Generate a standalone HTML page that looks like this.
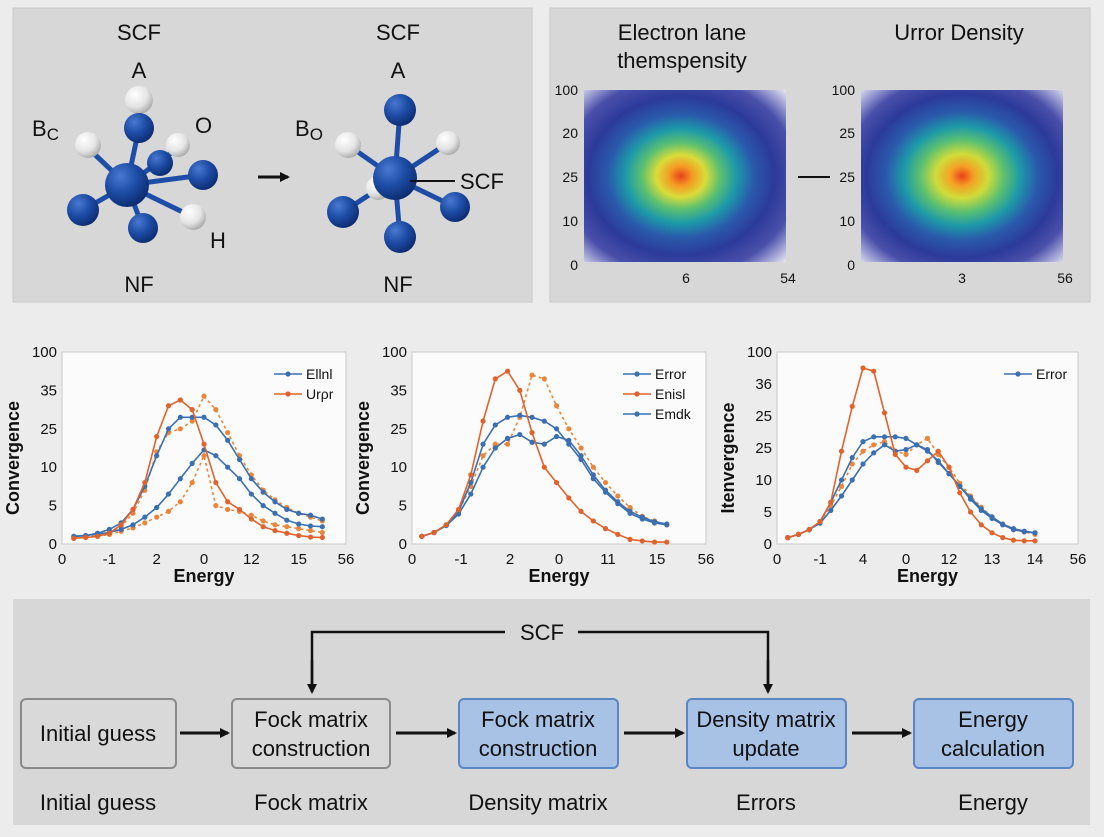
<!DOCTYPE html>
<html><head><meta charset="utf-8">
<style>
html,body{margin:0;padding:0;background:#ececec;}
body{width:1104px;height:832px;overflow:hidden;font-family:"Liberation Sans",sans-serif;}
svg text{font-family:"Liberation Sans",sans-serif;fill:#111;}
</style></head>
<body>
<svg id="root" width="1104" height="832" viewBox="0 0 1104 832" xmlns="http://www.w3.org/2000/svg">
<defs>
<radialGradient id="gBlue" cx="0.35" cy="0.3" r="0.75"><stop offset="0" stop-color="#4a78d0"/><stop offset="0.5" stop-color="#1d4da6"/><stop offset="1" stop-color="#0c2a6e"/></radialGradient>
<radialGradient id="gWhite" cx="0.35" cy="0.3" r="0.75"><stop offset="0" stop-color="#ffffff"/><stop offset="0.6" stop-color="#e4e4e4"/><stop offset="1" stop-color="#a8a8a8"/></radialGradient>
<radialGradient id="gHeat1" cx="0.48" cy="0.5" r="0.72"><stop offset="0" stop-color="#e8401c"/><stop offset="0.08" stop-color="#f59a22"/><stop offset="0.17" stop-color="#d9dc3a"/><stop offset="0.27" stop-color="#5cc070"/><stop offset="0.38" stop-color="#1d9aa8"/><stop offset="0.5" stop-color="#2a5aac"/><stop offset="0.64" stop-color="#2c3a9a"/><stop offset="0.8" stop-color="#4a50aa"/><stop offset="0.92" stop-color="#a8aad8"/><stop offset="1" stop-color="#e6e6f0"/></radialGradient>
<radialGradient id="gHeat2" cx="0.5" cy="0.5" r="0.72"><stop offset="0" stop-color="#e8401c"/><stop offset="0.08" stop-color="#f5a024"/><stop offset="0.18" stop-color="#cfdc3a"/><stop offset="0.29" stop-color="#5cc070"/><stop offset="0.4" stop-color="#1d9aa8"/><stop offset="0.52" stop-color="#2a5aac"/><stop offset="0.66" stop-color="#2c3a9a"/><stop offset="0.8" stop-color="#4a50aa"/><stop offset="0.92" stop-color="#a8aad8"/><stop offset="1" stop-color="#e6e6f0"/></radialGradient>
<marker id="arr" markerWidth="10" markerHeight="10" refX="8" refY="5" orient="auto" markerUnits="userSpaceOnUse"><path d="M0,0 L10,5 L0,10 z" fill="#111"/></marker>
</defs>

<g>
<rect x="13" y="8" width="519" height="294" fill="#d7d7d7" stroke="#c8c8c8"/>
<text x="139" y="40" font-size="22" text-anchor="middle">SCF</text>
<text x="139" y="78" font-size="22" text-anchor="middle">A</text>
<text x="32" y="136" font-size="22">B<tspan font-size="17" dy="4">C</tspan></text>
<text x="195" y="133" font-size="22">O</text>
<text x="210" y="248" font-size="22">H</text>
<text x="139" y="292" font-size="22" text-anchor="middle">NF</text>
<g stroke="#1d4da6" stroke-width="5">
<line x1="127" y1="185" x2="139" y2="128"/><line x1="127" y1="185" x2="88" y2="148"/><line x1="127" y1="185" x2="178" y2="148"/>
<line x1="127" y1="185" x2="203" y2="175"/><line x1="127" y1="185" x2="83" y2="210"/><line x1="127" y1="185" x2="143" y2="228"/><line x1="127" y1="185" x2="193" y2="217"/>
<circle cx="139" cy="100" r="14" fill="url(#gWhite)" stroke="none"/>
<circle cx="88" cy="145" r="13" fill="url(#gWhite)" stroke="none"/>
<circle cx="178" cy="145" r="12" fill="url(#gWhite)" stroke="none"/>
<circle cx="139" cy="128" r="15" fill="url(#gBlue)" stroke="none"/>
<circle cx="160" cy="163" r="13" fill="url(#gBlue)" stroke="none"/>
<circle cx="127" cy="185" r="22" fill="url(#gBlue)" stroke="none"/>
<circle cx="203" cy="175" r="15" fill="url(#gBlue)" stroke="none"/>
<circle cx="83" cy="210" r="16" fill="url(#gBlue)" stroke="none"/>
<circle cx="143" cy="228" r="15" fill="url(#gBlue)" stroke="none"/>
<circle cx="193" cy="217" r="13" fill="url(#gWhite)" stroke="none"/>
</g>
<line x1="258" y1="177" x2="288" y2="177" stroke="#111" stroke-width="3" marker-end="url(#arr)"/>
<text x="398" y="40" font-size="22" text-anchor="middle">SCF</text>
<text x="398" y="78" font-size="22" text-anchor="middle">A</text>
<text x="295" y="136" font-size="22">B<tspan font-size="17" dy="4">O</tspan></text>
<text x="398" y="292" font-size="22" text-anchor="middle">NF</text>
<g stroke="#1d4da6" stroke-width="5">
<line x1="395" y1="178" x2="400" y2="110"/><line x1="395" y1="178" x2="348" y2="145"/><line x1="395" y1="178" x2="448" y2="143"/>
<line x1="395" y1="178" x2="343" y2="212"/><line x1="395" y1="178" x2="455" y2="207"/><line x1="395" y1="178" x2="400" y2="237"/>
<circle cx="348" cy="145" r="13" fill="url(#gWhite)" stroke="none"/>
<circle cx="448" cy="143" r="12" fill="url(#gWhite)" stroke="none"/>
<circle cx="378" cy="188" r="12" fill="url(#gWhite)" stroke="none"/>
<circle cx="400" cy="110" r="16" fill="url(#gBlue)" stroke="none"/>
<circle cx="395" cy="178" r="22" fill="url(#gBlue)" stroke="none"/>
<circle cx="343" cy="212" r="16" fill="url(#gBlue)" stroke="none"/>
<circle cx="455" cy="207" r="15" fill="url(#gBlue)" stroke="none"/>
<circle cx="400" cy="237" r="16" fill="url(#gBlue)" stroke="none"/>
</g>
<line x1="410" y1="181" x2="455" y2="181" stroke="#111" stroke-width="2"/>
<text x="460" y="189" font-size="22">SCF</text>
</g>

<g>
<rect x="550" y="8" width="540" height="294" fill="#d7d7d7" stroke="#c8c8c8"/>
<text x="682" y="40" font-size="22" text-anchor="middle">Electron lane</text>
<text x="682" y="68" font-size="22" text-anchor="middle">themspensity</text>
<text x="959" y="40" font-size="22" text-anchor="middle">Urror Density</text>
<rect x="584" y="90" width="202" height="172" fill="#e6e6f0"/>
<rect x="584" y="90" width="202" height="172" fill="url(#gHeat1)"/>
<rect x="861" y="90" width="202" height="172" fill="#e6e6f0"/>
<rect x="861" y="90" width="202" height="172" fill="url(#gHeat2)"/>
<g font-size="14" text-anchor="end">
<text x="578" y="95">100</text><text x="578" y="138">20</text><text x="578" y="182">25</text><text x="578" y="226">10</text><text x="578" y="270">0</text></g>
<g font-size="14" text-anchor="end">
<text x="855" y="95">100</text><text x="855" y="138">25</text><text x="855" y="182">25</text><text x="855" y="226">10</text><text x="855" y="270">0</text></g>
<g font-size="14" text-anchor="middle">
<text x="686" y="283">6</text><text x="788" y="283">54</text><text x="962" y="283">3</text><text x="1065" y="283">56</text></g>
<line x1="798" y1="177" x2="830" y2="177" stroke="#111" stroke-width="2"/>
</g>

<g id="charts"></g>

<g>
<rect x="13" y="599" width="1077" height="226" fill="#d7d7d7"/>
<polyline points="312,690 312,632 505,632" fill="none" stroke="#111" stroke-width="2.5"/>
<polyline points="578,632 768,632 768,690" fill="none" stroke="#111" stroke-width="2.5"/>
<line x1="312" y1="660" x2="312" y2="692" stroke="#111" stroke-width="2.5" marker-end="url(#arr)"/>
<line x1="768" y1="660" x2="768" y2="692" stroke="#111" stroke-width="2.5" marker-end="url(#arr)"/>
<text x="542" y="640" font-size="22" text-anchor="middle">SCF</text>
<g font-size="22" text-anchor="middle">
<rect x="21" y="699" width="155" height="69" rx="5" fill="#d9d9d9" stroke="#8a8a8a" stroke-width="2"/>
<text x="98" y="741">Initial guess</text>
<rect x="232" y="699" width="158" height="69" rx="5" fill="#d9d9d9" stroke="#8a8a8a" stroke-width="2"/>
<text x="311" y="727">Fock matrix</text><text x="311" y="756">construction</text>
<rect x="459" y="699" width="159" height="69" rx="5" fill="#a8c2e6" stroke="#5b86c4" stroke-width="2"/>
<text x="538" y="727">Fock matrix</text><text x="538" y="756">construction</text>
<rect x="687" y="699" width="159" height="69" rx="5" fill="#a8c2e6" stroke="#5b86c4" stroke-width="2"/>
<text x="766" y="727">Density matrix</text><text x="766" y="756">update</text>
<rect x="914" y="699" width="159" height="69" rx="5" fill="#a8c2e6" stroke="#5b86c4" stroke-width="2"/>
<text x="993" y="727">Energy</text><text x="993" y="756">calculation</text>
<text x="98" y="810">Initial guess</text><text x="311" y="810">Fock matrix</text><text x="538" y="810">Density matrix</text><text x="766" y="810">Errors</text><text x="993" y="810">Energy</text>
</g>
<g stroke="#111" stroke-width="3">
<line x1="180" y1="733" x2="228" y2="733" marker-end="url(#arr)"/>
<line x1="396" y1="733" x2="455" y2="733" marker-end="url(#arr)"/>
<line x1="624" y1="733" x2="683" y2="733" marker-end="url(#arr)"/>
<line x1="852" y1="733" x2="910" y2="733" marker-end="url(#arr)"/>
</g>
</g>
</svg>
<script>
const c1XTicks = ["0","-1","2","0","12","15","56"];
const c1YTicks = ["0","5","10","25","35","100"];
const c1X = [0.25,0.5,0.75,1,1.25,1.5,1.75,2,2.25,2.5,2.75,3,3.25,3.5,3.75,4,4.25,4.5,4.75,5,5.25,5.5];
const c1Blue1 = [0.2,0.22,0.28,0.38,0.55,0.9,1.5,2.3,3.0,3.3,3.3,3.3,3.1,2.7,2.2,1.7,1.35,1.1,0.9,0.8,0.75,0.65];
const c1Blue2 = [0.2,0.22,0.26,0.3,0.38,0.5,0.7,0.95,1.3,1.7,2.1,2.45,2.3,2.0,1.7,1.3,1.0,0.8,0.62,0.52,0.47,0.45];
const c1Orange1 = [0.15,0.17,0.2,0.28,0.5,0.9,1.6,2.8,3.6,3.75,3.5,2.6,1.6,1.1,0.9,0.65,0.45,0.35,0.28,0.22,0.18,0.17];
const c1Orange2 = [0.15,0.18,0.22,0.3,0.45,0.8,1.4,2.4,2.9,3.0,3.2,3.85,3.5,2.9,2.3,1.8,1.4,1.15,0.95,0.8,0.7,0.6];
const c1Orange3 = [0.15,0.17,0.2,0.25,0.33,0.42,0.55,0.7,0.85,1.1,1.6,2.3,1.0,0.9,0.85,0.75,0.6,0.5,0.45,0.4,0.35,0.3];

const c2XTicks = ["0","-1","2","0","11","15","56"];
const c2YTicks = ["0","5","10","25","35","100"];
const c2X = [0.2,0.45,0.7,0.95,1.2,1.45,1.7,1.95,2.2,2.45,2.7,2.95,3.2,3.45,3.7,3.95,4.2,4.45,4.7,4.95,5.2];
const c2Orange1 = [0.2,0.3,0.5,0.9,1.8,3.2,4.3,4.5,4.0,2.9,2.0,1.6,1.2,0.85,0.6,0.4,0.25,0.12,0.08,0.05,0.05];
const c2Blue1 = [0.2,0.3,0.5,0.85,1.6,2.6,3.1,3.3,3.35,3.3,3.2,3.0,2.6,2.2,1.7,1.35,1.05,0.8,0.65,0.55,0.5];
const c2Blue2 = [0.2,0.3,0.48,0.78,1.3,2.0,2.5,2.75,2.85,2.65,2.6,2.8,2.7,2.3,1.8,1.4,1.1,0.85,0.7,0.58,0.52];
const c2Orange2 = [0.2,0.3,0.5,0.85,1.5,2.3,2.6,2.6,3.3,4.4,4.3,3.6,3.0,2.5,2.0,1.6,1.25,0.95,0.72,0.6,0.5];

const c3XTicks = ["0","-1","4","0","12","13","14","56"];
const c3YTicks = ["0","5","10","25","25","36","100"];
const c3X = [0.25,0.5,0.75,1,1.25,1.5,1.75,2,2.25,2.5,2.75,3,3.25,3.5,3.75,4,4.25,4.5,4.75,5,5.25,5.5,5.75,6];
const c3Orange1 = [0.2,0.3,0.45,0.7,1.3,2.9,4.3,5.5,5.4,4.1,2.8,2.4,2.3,2.6,2.9,2.4,1.6,1.0,0.6,0.35,0.2,0.12,0.1,0.1];
const c3Blue1 = [0.2,0.3,0.45,0.7,1.3,2.0,2.7,3.2,3.35,3.35,3.35,3.3,3.1,2.9,2.6,2.2,1.8,1.4,1.05,0.8,0.6,0.45,0.38,0.35];
const c3Blue2 = [0.2,0.3,0.45,0.65,1.05,1.5,2.0,2.5,2.85,3.1,2.9,2.95,3.1,2.95,2.55,2.2,1.8,1.45,1.1,0.85,0.62,0.48,0.4,0.35];
const c3Orange2 = [0.2,0.3,0.45,0.7,1.2,1.8,2.5,2.9,3.1,3.2,2.9,2.8,3.1,3.3,2.8,2.4,1.9,1.5,1.15,0.85,0.6,0.45,0.38,0.3];

const BLUE="#3a6fb0", ORANGE="#e0622c", ORANGE_L="#e8873c";
const NS="http://www.w3.org/2000/svg";
const host=document.getElementById('charts');
function mk(tag,attrs,parent){const e=document.createElementNS(NS,tag);for(const k in attrs)e.setAttribute(k,attrs[k]);parent.appendChild(e);return e;}

function drawChart(name,L,R,T,B,yLabel,xTicks,yTicks,xs,series,legend,legX){
  const g=mk('g',{},host);
  
  
  const nx=xTicks.length-1, ny=yTicks.length-1;
  const sx=v=>L+v*(R-L)/nx, sy=v=>B-v*(B-T)/ny;
  const bg=mk('rect',{x:L,y:T,width:R-L,height:B-T,fill:'#fbfbfb',stroke:'#c8c8c8'},g);
  
  
  xTicks.forEach((t,i)=>{const tx=mk('text',{x:sx(i),y:B+20,'font-size':15,'text-anchor':'middle'},g);tx.textContent=t;
    
    });
  yTicks.forEach((t,i)=>{const tx=mk('text',{x:L-5,y:sy(i)+5,'font-size':15,'text-anchor':'end'},g);tx.textContent=t;
    
    });
  const xt=mk('text',{x:(L+R)/2,y:B+38,'font-size':18,'font-weight':'bold','text-anchor':'middle'},g);xt.textContent='Energy';
  
  
  const cx=L-43, cy=(T+B)/2+10;
  const yt=mk('text',{x:cx,y:cy,'font-size':18,'font-weight':'bold','text-anchor':'middle',transform:`rotate(-90 ${cx} ${cy})`},g);yt.textContent=yLabel;
  
  
  series.forEach(s=>{
    const pts=xs.map((x,i)=>sx(x).toFixed(1)+','+sy(s.v[i]).toFixed(1)).join(' ');
    const pl=mk('polyline',{points:pts,fill:'none',stroke:s.c,'stroke-width':1.6,'stroke-dasharray':s.d||'none'},g);
    
    
    xs.forEach((x,i)=>{const p=mk('circle',{cx:sx(x),cy:sy(s.v[i]),r:2.6,fill:s.c},g);
      
      });
  });
  legend.forEach((l,i)=>{const y=T+22+i*20;
    const lg=mk('g',{},g);
    
    
    mk('line',{x1:legX,y1:y,x2:legX+28,y2:y,stroke:l.c,'stroke-width':1.6},lg);
    mk('circle',{cx:legX+14,cy:y,r:2.6,fill:l.c},lg);
    const t=mk('text',{x:legX+32,y:y+5,'font-size':14},lg);t.textContent=l.t;});
}
drawChart('convergence-chart-1',62,346,352,544,'Convergence',c1XTicks,c1YTicks,c1X,[
 {v:c1Orange3,c:ORANGE_L,d:'3,3',n:'series-urror-dashed'},
 {v:c1Orange2,c:ORANGE_L,d:'3,3',n:'series-urror-2'},
 {v:c1Blue2,c:BLUE,n:'series-elinl-2'},
 {v:c1Blue1,c:BLUE,n:'series-elinl'},
 {v:c1Orange1,c:ORANGE,n:'series-urror'}],
 [{t:'Ellnl',c:BLUE},{t:'Urρr',c:ORANGE}],274);
drawChart('convergence-chart-2',412,706,352,544,'Convergence',c2XTicks,c2YTicks,c2X,[
 {v:c2Orange2,c:ORANGE_L,d:'3,3',n:'series-enisl-dashed'},
 {v:c2Blue2,c:BLUE,n:'series-emdk'},
 {v:c2Blue1,c:BLUE,n:'series-error'},
 {v:c2Orange1,c:ORANGE,n:'series-enisl'}],
 [{t:'Error',c:BLUE},{t:'Enisl',c:ORANGE},{t:'Emdk',c:BLUE}],623);
drawChart('convergence-chart-3',777,1078,352,544,'Itenvergence',c3XTicks,c3YTicks,c3X,[
 {v:c3Orange2,c:ORANGE_L,d:'3,3',n:'series-orange-dashed'},
 {v:c3Blue2,c:BLUE,n:'series-error-2'},
 {v:c3Blue1,c:BLUE,n:'series-error'},
 {v:c3Orange1,c:ORANGE,n:'series-orange'}],
 [{t:'Error',c:BLUE}],1004);
</script>
</body></html>
